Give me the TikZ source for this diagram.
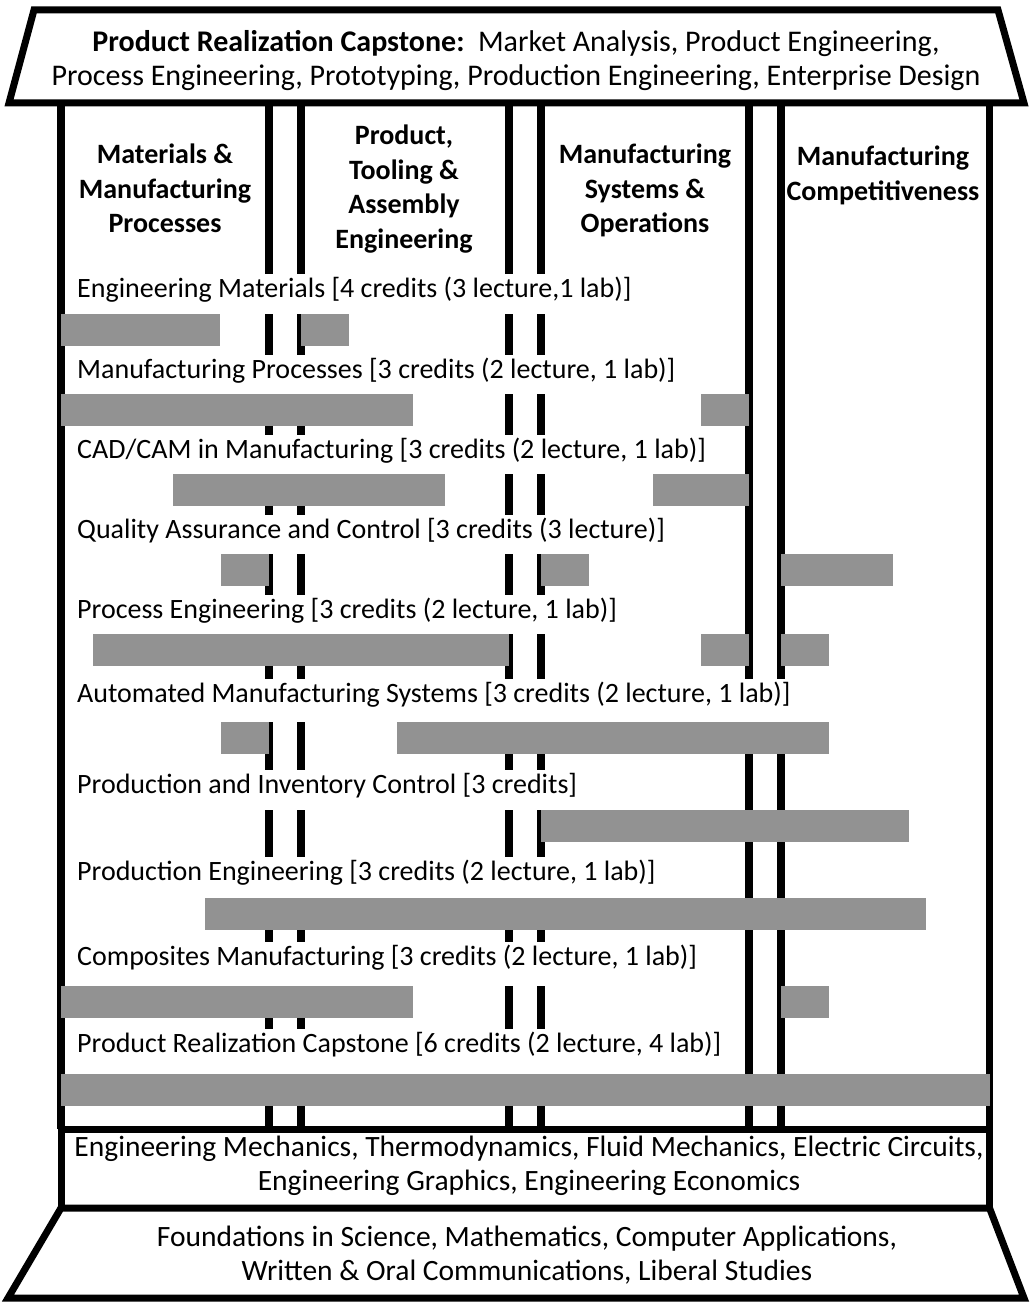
\documentclass[tikz,border=0pt]{standalone}
\usepackage{fontspec}
\setmainfont{Carlito}
\newcommand\rowfnt{\fontsize{28}{34}\selectfont}
\newcommand\boxfnt{\fontsize{29.5}{34}\selectfont}
\newcommand\topfnt{\fontsize{30}{34}\selectfont}
\newcommand\hdfnt{\fontsize{28}{34.5}\selectfont\bfseries}
\definecolor{barg}{RGB}{146,146,146}
\begin{document}
\begin{tikzpicture}[x=1pt,y=-1pt,
  pillar/.style={line width=7.5pt},
  frame/.style={line width=7pt, line join=miter},
  rowtext/.style={anchor=base west, fill=white, inner xsep=2pt, inner ysep=0pt, text height=23pt, text depth=#1, font=\rowfnt},
  head/.style={anchor=north, align=center, font=\hdfnt, inner sep=0pt},
  boxtext/.style={align=center, font=\boxfnt, inner sep=0pt},
  bar/.style={fill=barg}
]
\useasboundingbox (0,0) rectangle (1031,1303);
\fill[white] (0,0) rectangle (1031,1303);

% pillar lines
\foreach \x in {61,269,301,509,541,749,781,989.5}
  \draw[pillar] (\x,103) -- (\x,1129);

% top trapezoid
\draw[frame, fill=white] (34,10) -- (998,10) -- (1024,103) -- (9,103) -- cycle;
\node[boxtext, font=\topfnt] (top) at (516,61) {{\bfseries Product Realization Capstone:}\ \ Market Analysis, Product Engineering,\\Process Engineering, Prototyping, Production Engineering, Enterprise Design};

% column headers
\node[head] (h1) at (165,144) {Materials \&\\Manufacturing\\Processes};
\node[head] (h2) at (404,125) {Product,\\Tooling \&\\Assembly\\Engineering};
\node[head] (h3) at (645,144) {Manufacturing\\Systems \&\\Operations};
\node[head] (h4) at (883,146) {Manufacturing\\Competitiveness};

% course rows
\node[rowtext=17pt] (r1) at (75,297) {Engineering Materials [4 credits (3 lecture,1 lab)]};
\node[rowtext=16pt] (r2) at (75,378) {Manufacturing Processes [3 credits (2 lecture, 1 lab)]};
\node[rowtext=16pt] (r3) at (75,458) {CAD/CAM in Manufacturing [3 credits (2 lecture, 1 lab)]};
\node[rowtext=16pt] (r4) at (75,538) {Quality Assurance and Control [3 credits (3 lecture)]};
\node[rowtext=16pt] (r5) at (75,618) {Process Engineering [3 credits (2 lecture, 1 lab)]};
\node[rowtext=20pt] (r6) at (75,702) {Automated Manufacturing Systems [3 credits (2 lecture, 1 lab)]};
\node[rowtext=17pt] (r7) at (75,793) {Production and Inventory Control [3 credits]};
\node[rowtext=18pt] (r8) at (75,880) {Production Engineering [3 credits (2 lecture, 1 lab)]};
\node[rowtext=21pt] (r9) at (75,965) {Composites Manufacturing [3 credits (2 lecture, 1 lab)]};
\node[rowtext=22pt] (r10) at (75,1052) {Product Realization Capstone [6 credits (2 lecture, 4 lab)]};

% bars
\fill[bar] (61,314) rectangle (220,346);
\fill[bar] (301,314) rectangle (349,346);
\fill[bar] (61,394) rectangle (413,426);
\fill[bar] (701,394) rectangle (749,426);
\fill[bar] (173,474) rectangle (445,506);
\fill[bar] (653,474) rectangle (749,506);
\fill[bar] (221,554) rectangle (269,586);
\fill[bar] (541,554) rectangle (589,586);
\fill[bar] (781,554) rectangle (893,586);
\fill[bar] (93,634) rectangle (509,666);
\fill[bar] (701,634) rectangle (749,666);
\fill[bar] (781,634) rectangle (829,666);
\fill[bar] (221,722) rectangle (269,754);
\fill[bar] (397,722) rectangle (829,754);
\fill[bar] (541,810) rectangle (909,842);
\fill[bar] (205,898) rectangle (926,930);
\fill[bar] (61,986) rectangle (413,1018);
\fill[bar] (781,986) rectangle (829,1018);
\fill[bar] (61,1074) rectangle (989.5,1106);

% middle box
\draw[frame, fill=white] (61,1129) rectangle (989.5,1208);
\node[boxtext] (mid) at (529,1166) {Engineering Mechanics, Thermodynamics, Fluid Mechanics, Electric Circuits,\\Engineering Graphics, Engineering Economics};

% bottom trapezoid
\draw[frame, fill=white] (61,1208) -- (989.5,1208) -- (1024,1298) -- (8,1298) -- cycle;
\node[boxtext] (base) at (527,1255) {Foundations in Science, Mathematics, Computer Applications,\\Written \& Oral Communications, Liberal Studies};
\end{tikzpicture}
\end{document}
